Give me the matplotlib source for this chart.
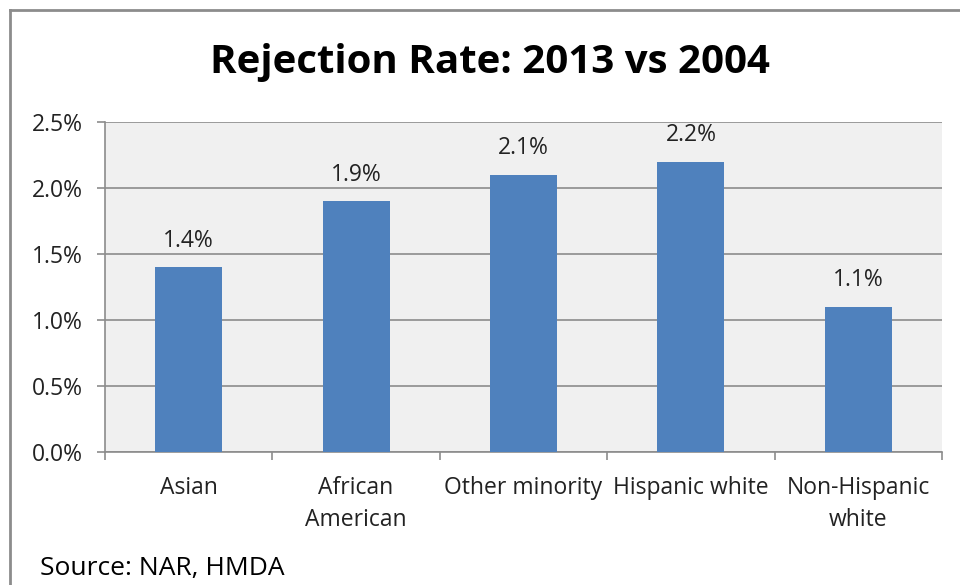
import numpy as np
import matplotlib.pyplot as plt
from matplotlib.ticker import FuncFormatter, MultipleLocator

plt.rcParams['font.family'] = ['Open Sans', 'DejaVu Sans']

groups = ['Asian', 'African\nAmerican', 'Other minority', 'Hispanic white', 'Non-Hispanic\nwhite']
rates = [1.4, 1.9, 2.1, 2.2, 1.1]

bar_color = '#4F81BD'
grid_color = '#8C8C8C'
text_color = '#222222'

fig = plt.figure(figsize=(9.6, 5.85), dpi=100)
ax = fig.add_axes([105 / 960, 1 - 452 / 585, (942 - 105) / 960, (452 - 122) / 585])

x = np.arange(len(groups))
ax.bar(x, rates, width=0.4, color=bar_color, zorder=3)

for xi, v in zip(x, rates):
    ax.annotate(f'{v:.1f}%', (xi, v), xytext=(0, 19), textcoords='offset points',
                ha='center', va='center', fontsize=16.5, color=text_color)

ax.set_xlim(-0.5, len(groups) - 0.5)
ax.set_ylim(0, 2.5)
ax.set_facecolor('#F0F0F0')
ax.yaxis.set_major_locator(MultipleLocator(0.5))
ax.yaxis.set_major_formatter(FuncFormatter(lambda v, p: f'{v:.1f}%'))
ax.grid(axis='y', color=grid_color, linewidth=1.2, zorder=0)
ax.set_axisbelow(True)

ax.set_xticks(x)
ax.set_xticklabels(groups, fontsize=16.5, color=text_color, linespacing=1.45)
ax.tick_params(axis='x', length=0, pad=17)
# category boundary ticks
ax.set_xticks(np.arange(-0.5, len(groups)), minor=True)
ax.tick_params(axis='x', which='minor', length=6, color=grid_color, width=1.2)
ax.tick_params(axis='y', length=6, color=grid_color, width=1.2, labelsize=16.5,
               labelcolor=text_color, pad=10)

for side in ['top', 'right']:
    ax.spines[side].set_visible(False)
for side in ['left', 'bottom']:
    ax.spines[side].set_color(grid_color)
    ax.spines[side].set_linewidth(1.2)

fig.text(490 / 960, 1 - 62 / 585, 'Rejection Rate: 2013 vs 2004', ha='center', va='center',
         fontsize=29, fontweight='bold', color='black')
fig.text(40 / 960, 1 - 568 / 585, 'Source: NAR, HMDA', ha='left', va='center',
         fontsize=19, color='black')

# frame around the chart, running off the right and bottom edges
fig.add_artist(plt.Line2D([10 / 960, 10 / 960], [0, 1 - 10 / 585],
                          color='#8C8C8C', linewidth=2, transform=fig.transFigure))
fig.add_artist(plt.Line2D([10 / 960, 1], [1 - 10 / 585, 1 - 10 / 585],
                          color='#8C8C8C', linewidth=2, transform=fig.transFigure))

fig.savefig('out.png', dpi=100)
